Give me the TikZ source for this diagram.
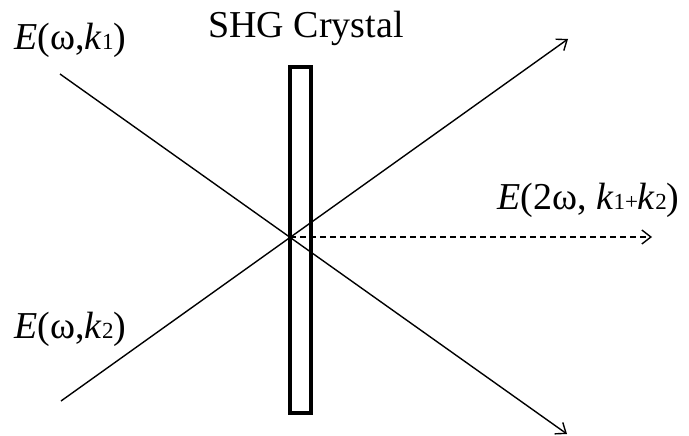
\documentclass[tikz,border=0pt]{standalone}
\usepackage{fontspec}
\setmainfont{Liberation Serif}
\usetikzlibrary{arrows.meta}
\tikzset{
  beam/.style={line width=1.4pt, -{Straight Barb[length=9pt,width=14pt,line width=1.4pt]}},
  shg/.style={line width=1.4pt, dash pattern=on 6pt off 4pt, -{Straight Barb[length=9pt,width=14pt,line width=1.4pt,sep=0pt]}},
  crystal/.style={draw, line width=4pt},
  lbl/.style={inner sep=0pt, font=\fontsize{38}{42}\selectfont},
}
\newcommand{\sbs}[1]{{\fontsize{23}{25}\selectfont #1}}
\begin{document}
\begin{tikzpicture}[x=1pt,y=-1pt]
\useasboundingbox (0,0) rectangle (689,436);
\coordinate (a1) at (60,74);
\coordinate (b1) at (567,434);
\coordinate (a2) at (61,401);
\coordinate (b2) at (568,39);
\coordinate (c) at (290,237);
\coordinate (d) at (652,237);
\draw[beam] (a1) -- (b1);
\draw[beam] (a2) -- (b2);
\draw[crystal] (290,67) rectangle (311,413);
\draw[shg] (c) -- (d);
\node[lbl, anchor=base west] (l1) at (14,50) {\textit{E}(ω,\textit{k}\sbs{1})};
\node[lbl, anchor=base west] (l2) at (14,338) {\textit{E}(ω,\textit{k}\sbs{2})};
\node[lbl, anchor=base west] (l3) at (497,209) {\textit{E}(2ω, \textit{k}\sbs{1+}\textit{k}\sbs{2})};
\node[lbl, anchor=base] (l4) at (306,38) {SHG Crystal};
\end{tikzpicture}
\end{document}
